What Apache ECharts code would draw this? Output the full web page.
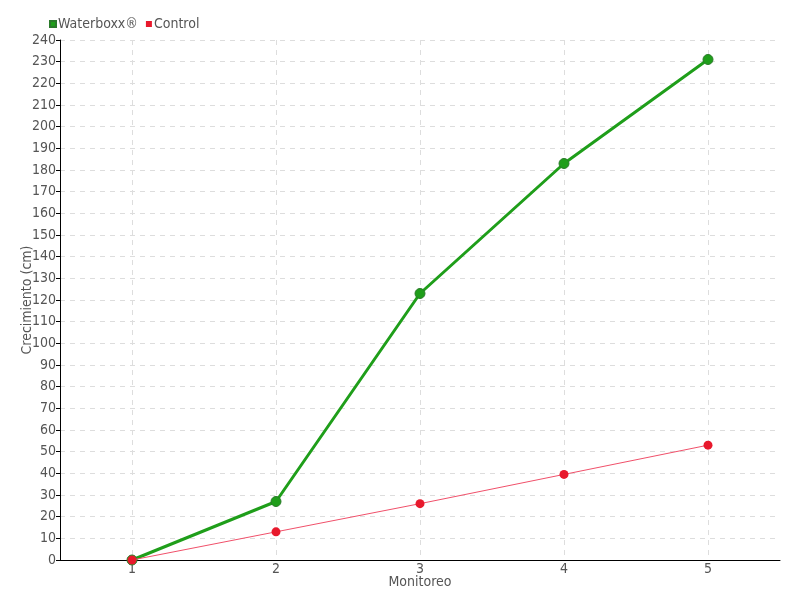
<!DOCTYPE html>
<html><head><meta charset="utf-8">
<script src="https://cdn.jsdelivr.net/npm/echarts@6/dist/echarts.min.js"></script>
<style>html,body{margin:0;padding:0;background:#fff}#c{width:800px;height:600px}</style>
</head><body><div id="c"></div>
<script>
const categories = ['1','2','3','4','5'];
const waterboxx = [0, 27, 123, 183, 231];
const control = [0, 13, 26, 39.5, 53];
const FONT = '"DejaVu Sans Condensed", "Liberation Sans Narrow", sans-serif';
const chart = echarts.init(document.getElementById('c'));
chart.setOption({
  animation: false,
  textStyle: { fontFamily: FONT },
  legend: {
    left: 44, top: 12, itemWidth: 6, itemHeight: 6, itemGap: 8,
    icon: 'rect',
    textStyle: { color: '#555', fontSize: 14, fontFamily: FONT, padding: [0,0,0,-3] },
    data: ['Waterboxx®', 'Control']
  },
  grid: { left: 60, right: 20, top: 40, bottom: 40 },
  xAxis: {
    type: 'category', data: categories, boundaryGap: true,
    name: 'Monitoreo', nameLocation: 'middle', nameGap: 15, nameMoveOverlap: false,
    nameTextStyle: { color: '#555', fontSize: 14, fontFamily: FONT },
    axisLine: { lineStyle: { color: '#000', width: 1 } },
    axisTick: { alignWithLabel: true, length: 4, lineStyle: { color: '#000' } },
    axisLabel: { color: '#555', fontSize: 14, margin: 2, fontFamily: FONT },
    splitLine: { show: true, alignWithLabel: true, lineStyle: { color: '#ddd', type: [5, 5] } }
  },
  yAxis: {
    type: 'value', min: 0, max: 240, interval: 10,
    name: 'Crecimiento (cm)', nameLocation: 'middle', nameGap: 26, nameMoveOverlap: false,
    nameTextStyle: { color: '#555', fontSize: 14, fontFamily: FONT },
    axisLine: { show: true, lineStyle: { color: '#000', width: 1 } },
    axisTick: { show: true, length: 4, lineStyle: { color: '#000' } },
    axisLabel: { color: '#555', fontSize: 14, margin: 4, fontFamily: FONT },
    splitLine: { show: true, lineStyle: { color: '#ddd', type: [5, 5] } }
  },
  series: [
    {
      name: 'Waterboxx®', type: 'line', data: waterboxx,
      symbol: 'circle', symbolSize: 10,
      lineStyle: { color: '#1f9e1a', width: 3 },
      itemStyle: { color: '#1f9e1a', borderColor: '#2a7a2a', borderWidth: 1 },
      z: 2
    },
    {
      name: 'Control', type: 'line', data: control,
      symbol: 'circle', symbolSize: 9,
      lineStyle: { color: '#f0506a', width: 1 },
      itemStyle: { color: '#e8192c' },
      z: 3
    }
  ]
});
</script></body></html>
